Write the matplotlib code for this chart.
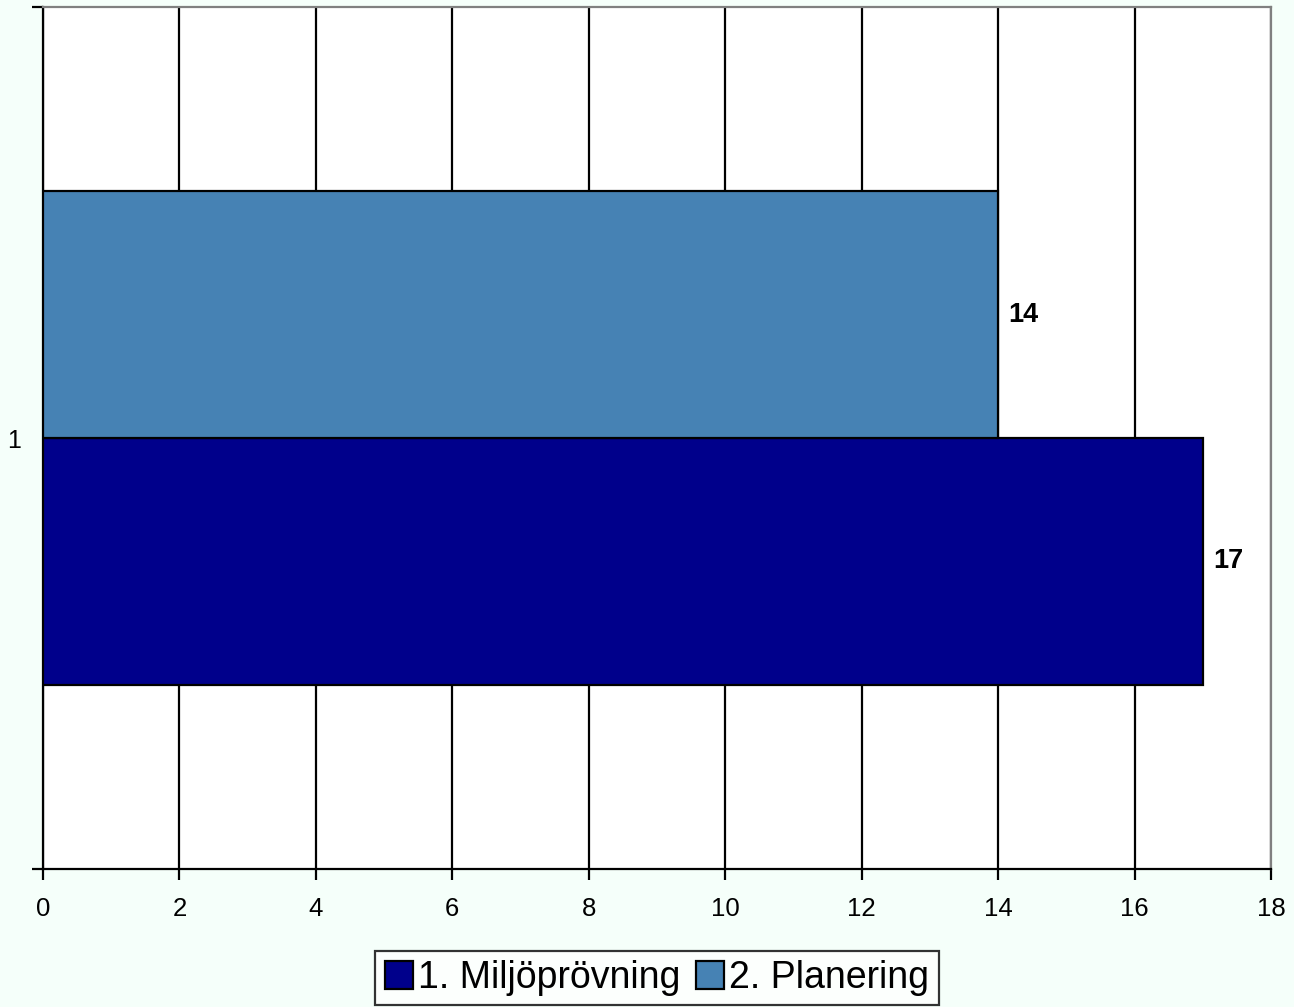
import matplotlib
matplotlib.use("Agg")
import matplotlib.pyplot as plt
from matplotlib.ticker import FixedLocator

plt.rcParams['font.family'] = ['Liberation Sans', 'DejaVu Sans']

series = ["1. Miljöprövning", "2. Planering"]
values = [17, 14]
colors = ["#00008B", "#4682B4"]
category = ["1"]
xticks = [0, 2, 4, 6, 8, 10, 12, 14, 16, 18]

fig = plt.figure(figsize=(12.94, 10.07), dpi=100, facecolor="#F5FFFA")
ax = fig.add_axes([43/1294, 1-869/1007, (1271-43)/1294, (869-7)/1007])
ax.set_facecolor("white")

h = 0.286
offsets = [-h/2, h/2]
handles = []
for s, v, c, off in zip(series, values, colors, offsets):
    b = ax.barh(0 + off, v, height=h, color=c, edgecolor="black", linewidth=1.6, zorder=3, label=s)
    handles.append(b)
    ax.text(v + 0.15, 0 + off, str(v), va="center", ha="left", fontsize=19.5, fontweight="bold", zorder=4)

ax.set_xlim(0, 18)
ax.set_ylim(-0.5, 0.5)
ax.set_xticks(xticks)
ax.set_xticklabels([str(t) for t in xticks])
ax.xaxis.grid(True, color="black", linewidth=1.6, zorder=0)
ax.set_axisbelow(True)

ax.set_yticks([0])
ax.set_yticklabels(category)
ax.yaxis.set_minor_locator(FixedLocator([-0.5, 0.5]))
ax.tick_params(axis="y", which="major", length=0, pad=16, labelsize=18)
ax.tick_params(axis="y", which="minor", length=8, width=1.6, color="black")
ax.tick_params(axis="x", length=8, width=1.6, pad=12, labelsize=18.5)

for side in ["left", "bottom"]:
    ax.spines[side].set_color("black")
    ax.spines[side].set_linewidth(1.6)
for side in ["top", "right"]:
    ax.spines[side].set_color("#808080")
    ax.spines[side].set_linewidth(1.6)

leg = fig.legend(handles=handles, labels=series, loc="center", bbox_to_anchor=(657/1294, 1-978/1007),
                 ncol=2, fontsize=27, frameon=True, fancybox=False, edgecolor="black",
                 handlelength=0.75, handleheight=0.75, handletextpad=0.15, columnspacing=0.4,
                 borderpad=0.25, borderaxespad=0)
leg.get_frame().set_linewidth(1.6)
leg.get_frame().set_facecolor("white")

fig.savefig("out.png", dpi=100, facecolor=fig.get_facecolor())
